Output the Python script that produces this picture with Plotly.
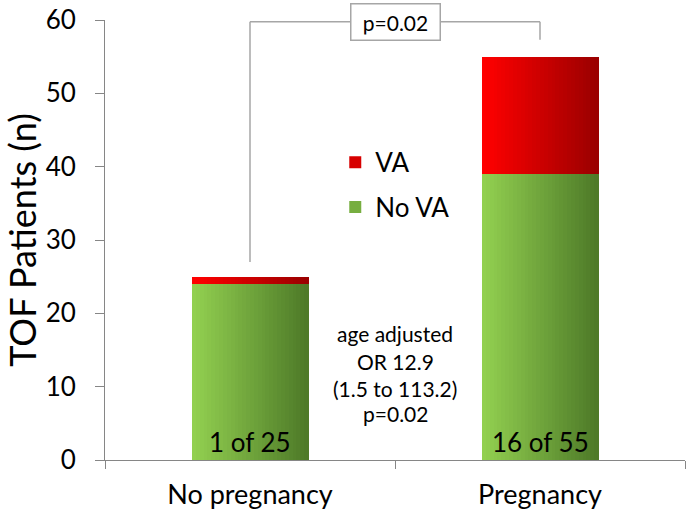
import plotly.graph_objects as go

categories = ["No pregnancy", "Pregnancy"]
no_va = [24, 39]
va = [1, 16]
bar_labels = ["1 of 25", "16 of 55"]
series_names = ["VA", "No VA"]
y_ticks = [0, 10, 20, 30, 40, 50, 60]
stats_lines = ["age adjusted", "OR 12.9", "(1.5 to 113.2)", "p=0.02"]
p_bracket = "p=0.02"

FONT = "Lato"
green_l, green_r = (146, 208, 80), (78, 122, 40)
red_l, red_r = (255, 0, 0), (155, 0, 0)


def mix(a, b, t):
    return "rgb(%d,%d,%d)" % tuple(round(a[k] + (b[k] - a[k]) * t) for k in range(3))


fig = go.Figure()
N = 30
W = 0.4
for i in range(N):
    t = i / (N - 1)
    off = -W / 2 + i * W / N
    fig.add_trace(go.Bar(x=categories, y=no_va, base=[0, 0], offset=off, width=W / N + 0.002,
                         marker=dict(color=mix(green_l, green_r, t), line=dict(width=0)),
                         showlegend=False, hoverinfo="skip"))
    fig.add_trace(go.Bar(x=categories, y=va, base=no_va, offset=off, width=W / N + 0.002,
                         marker=dict(color=mix(red_l, red_r, t), line=dict(width=0)),
                         showlegend=False, hoverinfo="skip"))

# legend entries
fig.add_trace(go.Bar(x=[categories[0]], y=[None], name=series_names[0], legendgroup="a",
                     marker=dict(color=mix(red_l, red_r, 0.4), line=dict(width=0))))
fig.add_trace(go.Bar(x=[categories[0]], y=[None], name=series_names[1], legendgroup="b",
                     marker=dict(color=mix(green_l, green_r, 0.4), line=dict(width=0))))

annotations = []
for c, lab in zip(categories, bar_labels):
    annotations.append(dict(x=c, y=2.4, text=lab, showarrow=False,
                            font=dict(family=FONT, size=26, color="black")))
for txt, yy in zip(stats_lines, [17.3, 13.5, 9.7, 6.3]):
    annotations.append(dict(x=0.5, y=yy, text=txt, showarrow=False,
                            font=dict(family=FONT, size=21, color="black")))
annotations.append(dict(x=0.5, y=59.75, text=p_bracket, showarrow=False, yanchor="middle",
                        font=dict(family=FONT, size=21, color="black"),
                        bordercolor="#a6a6a6", borderwidth=1.5, borderpad=5,
                        bgcolor="white", width=78, height=25))

lc = "#a6a6a6"
shapes = [
    dict(type="line", xref="x", yref="y", x0=0, x1=0, y0=27, y1=59.75, line=dict(color=lc, width=1.5)),
    dict(type="line", xref="x", yref="y", x0=0, x1=1, y0=59.75, y1=59.75, line=dict(color=lc, width=1.5)),
    dict(type="line", xref="x", yref="y", x0=1, x1=1, y0=59.75, y1=57.3, line=dict(color=lc, width=1.5)),
]

fig.update_layout(
    width=688, height=514,
    margin=dict(l=105, r=3, t=20, b=54),
    barmode="overlay", bargap=0,
    plot_bgcolor="white", paper_bgcolor="white",
    font=dict(family=FONT, color="black"),
    annotations=annotations, shapes=shapes,
    legend=dict(x=0.397, y=0.73, xanchor="left", yanchor="top", traceorder="grouped",
                tracegroupgap=8, itemwidth=30, bgcolor="rgba(0,0,0,0)",
                font=dict(family=FONT, size=26, color="black")),
    xaxis=dict(type="category", range=[-0.5, 1.5], showline=True, linecolor="#868686", linewidth=1,
               ticks="outside", tickson="boundaries", ticklen=8, tickcolor="#868686",
               tickfont=dict(family=FONT, size=27, color="black"), ticklabelstandoff=11,
               showgrid=False, zeroline=False, fixedrange=True, automargin=False),
    yaxis=dict(range=[0, 60], tickvals=y_ticks, showline=True, linecolor="#868686", linewidth=1,
               ticks="outside", ticklen=9, tickcolor="#868686",
               tickfont=dict(family=FONT, size=26, color="black"), ticklabelstandoff=14,
               showgrid=False, zeroline=False, automargin=False, fixedrange=True,
               title=dict(text="TOF Patients (n)", font=dict(family=FONT, size=36, color="black"), standoff=16)),
)

fig.write_html("out.html", config={"displayModeBar": False},
               post_script="document.body.style.margin='0';document.body.style.overflow='hidden';")
